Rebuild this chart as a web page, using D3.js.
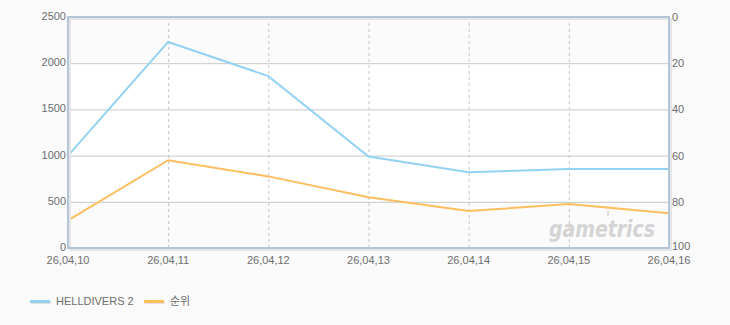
<!DOCTYPE html>
<html>
<head>
<meta charset="utf-8">
<script src="https://cdn.jsdelivr.net/npm/d3@7"></script>
<style>
  html, body { margin: 0; padding: 0; background: #fafafa; }
  svg { display: block; font-family: "Liberation Sans", "Noto Sans CJK KR", sans-serif; }
  .tick-label { fill: #6e6e6e; font-size: 11px; }
  .legend-label { fill: #6e6e6e; font-size: 11px; font-family: "Liberation Sans", "Noto Sans CJK KR", sans-serif; }
</style>
</head>
<body>
<svg id="chart" width="730" height="325"></svg>
<script>
// chart data
const dates = ['26,04,10', '26,04,11', '26,04,12', '26,04,13', '26,04,14', '26,04,15', '26,04,16'];
const players = [1000, 2230, 1860, 990, 820, 855, 855];
const ranks = [88, 62, 69, 78, 84, 81, 85];
const leftTicks = [0, 500, 1000, 1500, 2000, 2500];
const rightTicks = [0, 20, 40, 60, 80, 100];
const seriesNames = ['HELLDIVERS 2', '순위'];

const colors = { players: '#93d2f2', rank: '#fdbe5e' };

const svg = d3.select('#chart');
const margin = { left: 68, right: 61, top: 17, bottom: 77 };
const width = 730 - margin.left - margin.right;
const height = 325 - margin.top - margin.bottom;

const x = d3.scalePoint().domain(dates).range([0, width]);
const yLeft = d3.scaleLinear().domain([0, 2500]).range([height, 0]);
const yRight = d3.scaleLinear().domain([0, 100]).range([0, height]);

const g = svg.append('g').attr('transform', `translate(${margin.left},${margin.top})`);

// plot background with light bands
g.append('rect')
  .attr('x', 0).attr('y', 0)
  .attr('width', width).attr('height', height)
  .attr('fill', '#ffffff');
[[0, 500], [2000, 2500]].forEach(([a, b]) => {
  g.append('rect')
    .attr('x', 0).attr('y', yLeft(b))
    .attr('width', width).attr('height', yLeft(a) - yLeft(b))
    .attr('fill', '#fbfbfb');
});

// horizontal grid
g.selectAll('.hgrid')
  .data(leftTicks.slice(1, -1))
  .enter().append('line')
  .attr('class', 'hgrid')
  .attr('x1', 0).attr('x2', width)
  .attr('y1', d => yLeft(d) + 0.5).attr('y2', d => yLeft(d) + 0.5)
  .attr('stroke', '#c9c9c9').attr('stroke-width', 1);

// vertical dashed grid
g.selectAll('.vgrid')
  .data(dates.slice(1, -1))
  .enter().append('line')
  .attr('class', 'vgrid')
  .attr('x1', d => x(d) + 0.5).attr('x2', d => x(d) + 0.5)
  .attr('y1', 0).attr('y2', height)
  .attr('stroke', '#c4c4c4').attr('stroke-width', 1)
  .attr('stroke-dasharray', '3,3');

// watermark
g.append('text')
  .attr('transform', `translate(${549 - margin.left},${237 - margin.top}) scale(1,1.3)`)
  .attr('font-family', '"DejaVu Sans", sans-serif')
  .attr('font-size', 18).attr('font-weight', 'bold').attr('font-style', 'italic')
  .attr('fill', '#d4d4d4')
  .attr('textLength', 106).attr('lengthAdjust', 'spacingAndGlyphs')
  .text('gametrics');
g.append('rect')
  .attr('x', 607 - margin.left).attr('y', 211 - margin.top)
  .attr('width', 2).attr('height', 5).attr('fill', '#dcdcdc');

// series lines
const lineLeft = d3.line().x((d, i) => x(dates[i])).y(d => yLeft(d));
const lineRight = d3.line().x((d, i) => x(dates[i])).y(d => yRight(d));

g.append('path')
  .datum(ranks)
  .attr('d', lineRight)
  .attr('fill', 'none')
  .attr('stroke', colors.rank)
  .attr('stroke-width', 2);

g.append('path')
  .datum(players)
  .attr('d', lineLeft)
  .attr('fill', 'none')
  .attr('stroke', colors.players)
  .attr('stroke-width', 2);

// plot frame shadow + border
g.append('rect')
  .attr('x', 2).attr('y', 2)
  .attr('width', width).attr('height', height)
  .attr('fill', 'none')
  .attr('stroke', '#e6e6e6').attr('stroke-width', 2);
g.append('rect')
  .attr('x', 0).attr('y', 0)
  .attr('width', width).attr('height', height)
  .attr('fill', 'none')
  .attr('stroke', '#b3c5d7').attr('stroke-width', 2);

// left axis labels
g.selectAll('.ltick')
  .data(leftTicks)
  .enter().append('text')
  .attr('class', 'tick-label')
  .attr('x', -2)
  .attr('y', d => yLeft(d) + 3)
  .attr('text-anchor', 'end')
  .text(d => d);

// right axis labels
g.selectAll('.rtick')
  .data(rightTicks)
  .enter().append('text')
  .attr('class', 'tick-label')
  .attr('x', width + 3)
  .attr('y', d => yRight(d) + (d === 100 ? 2 : 4))
  .attr('text-anchor', 'start')
  .text(d => d);

// x labels
g.selectAll('.xtick')
  .data(dates)
  .enter().append('text')
  .attr('class', 'tick-label')
  .attr('x', d => x(d))
  .attr('y', height + 16)
  .attr('text-anchor', 'middle')
  .text(d => d);

// legend
const legend = svg.append('g').attr('transform', 'translate(30,301)');
const legendX = [0, 114];
const legendColors = [colors.players, colors.rank];
seriesNames.forEach((name, i) => {
  const lg = legend.append('g').attr('transform', `translate(${legendX[i]},0)`);
  lg.append('rect').attr('x', 1).attr('y', 0).attr('width', 20).attr('height', 3).attr('fill', '#e2e2e2');
  lg.append('rect').attr('x', 0).attr('y', -1).attr('width', 20).attr('height', 3).attr('fill', legendColors[i]);
  lg.append('text').attr('class', 'legend-label').attr('x', 26).attr('y', 4).text(name);
});
</script>
</body>
</html>
